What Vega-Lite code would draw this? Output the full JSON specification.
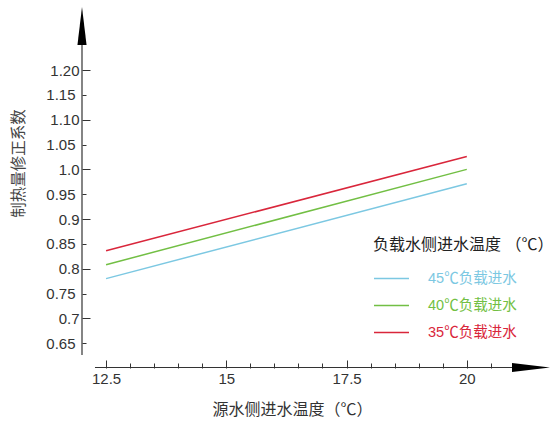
{
  "$schema": "https://vega.github.io/schema/vega-lite/v6.json",
  "width": 468,
  "height": 361,
  "autosize": "none",
  "padding": {"left": 82, "top": 7, "right": 5, "bottom": 53},
  "background": "white",
  "config": {"view": {"stroke": null}, "font": "Liberation Sans, Noto Sans CJK SC", "axis": {"labelOverlap": false, "labelFlush": false, "labelBound": false}},
  "layer": [
    {
      "data": {"values": [
        {"series": "45℃负载进水", "x": 12.5, "y": 0.78},
        {"series": "45℃负载进水", "x": 20, "y": 0.971},
        {"series": "40℃负载进水", "x": 12.5, "y": 0.808},
        {"series": "40℃负载进水", "x": 20, "y": 1.0},
        {"series": "35℃负载进水", "x": 12.5, "y": 0.836},
        {"series": "35℃负载进水", "x": 20, "y": 1.026}
      ]},
      "mark": {"type": "line", "strokeWidth": 1.5},
      "encoding": {
        "x": {"field": "x", "type": "quantitative",
          "scale": {"domain": [12, 21.73], "nice": false, "zero": false},
          "axis": {
            "values": [12.5, 13, 13.5, 14, 14.5, 15, 15.5, 16, 16.5, 17, 17.5, 18, 18.5, 19, 19.5, 20, 20.5],
            "tickCount": 100,
            "domain": false, "grid": false,
            "tickSize": {"condition": {"test": "round(datum.value*2) % 5 == 0", "value": -8}, "value": -5},
            "tickColor": "#333", "tickWidth": 1,
            "labelExpr": "round(datum.value*2) % 5 == 0 ? format(datum.value, '~g') : ''",
            "labelOverlap": false, "labelFlush": false, "labelBound": false,
            "labelPadding": 11, "labelFontSize": 15, "labelColor": "#333",
            "title": "源水侧进水温度（℃）", "titleFontSize": 16, "titleFontWeight": "normal",
            "titleColor": "#333", "titleX": 210, "titleY": 41, "titleBaseline": "middle", "titleAlign": "center"
          }
        },
        "y": {"field": "y", "type": "quantitative",
          "scale": {"domain": [0.6, 1.327], "nice": false, "zero": false},
          "axis": {
            "values": [0.65, 0.7, 0.75, 0.8, 0.85, 0.9, 0.95, 1.0, 1.05, 1.1, 1.15, 1.2],
            "tickCount": 100,
            "domain": false, "grid": false,
            "tickSize": {"condition": {"test": "abs(round(datum.value*20)) % 2 == 0", "value": -8}, "value": -4},
            "tickColor": "#333", "tickWidth": 1,
            "labelExpr": "datum.value > 1.02 || abs(round(datum.value*20)) % 2 == 1 ? format(datum.value, '.2f') : format(datum.value, '.1f')",
            "labelOverlap": false, "labelFlush": false, "labelBound": false,
            "labelPadding": 11, "labelFontSize": 15, "labelColor": "#333",
            "title": "制热量修正系数", "titleFontSize": 15.5, "titleFontWeight": "normal",
            "titleColor": "#444", "titleAngle": -90, "titleX": -64, "titleY": 156,
            "titleBaseline": "middle", "titleAlign": "center"
          }
        },
        "color": {"field": "series", "type": "nominal",
          "scale": {"domain": ["45℃负载进水", "40℃负载进水", "35℃负载进水"], "range": ["#7cc8e2", "#72bf44", "#d9263b"]},
          "legend": {
            "orient": "none", "legendX": 291, "legendY": 230, "padding": 0,
            "title": "负载水侧进水温度 （℃）", "titleFontSize": 16, "titleFontWeight": "normal",
            "titleColor": "#222", "titlePadding": 7, "titleLimit": 400,
            "labelFontSize": 14.5, "labelOffset": 18, "labelLimit": 200,
            "symbolType": "stroke", "symbolSize": 1225, "symbolStrokeWidth": 1.5,
            "rowPadding": 2,
            "encode": {"labels": {"update": {"fill": {"scale": "color", "field": "value"}}}}
          }
        }
      }
    },
    {
      "data": {"values": [{}]},
      "mark": {"type": "rule", "color": "#333", "strokeWidth": 1.2},
      "encoding": {"x": {"datum": 12}, "y": {"datum": 0.626}, "y2": {"datum": 1.3}}
    },
    {
      "data": {"values": [{}]},
      "mark": {"type": "rule", "color": "#333", "strokeWidth": 1.2},
      "encoding": {"y": {"datum": 0.601}, "x": {"datum": 12.27}, "x2": {"datum": 21.3}}
    },
    {
      "data": {"values": [{}]},
      "mark": {"type": "point", "shape": "M0,-1L0.24,1L-0.24,1Z", "filled": true, "color": "#000", "size": 1444, "opacity": 1},
      "encoding": {"x": {"datum": 12}, "y": {"datum": 1.2886}}
    },
    {
      "data": {"values": [{}]},
      "mark": {"type": "point", "shape": "M1,0L-1,-0.24L-1,0.24Z", "filled": true, "color": "#000", "size": 1444, "opacity": 1},
      "encoding": {"x": {"datum": 21.335}, "y": {"datum": 0.601}}
    }
  ]
}
